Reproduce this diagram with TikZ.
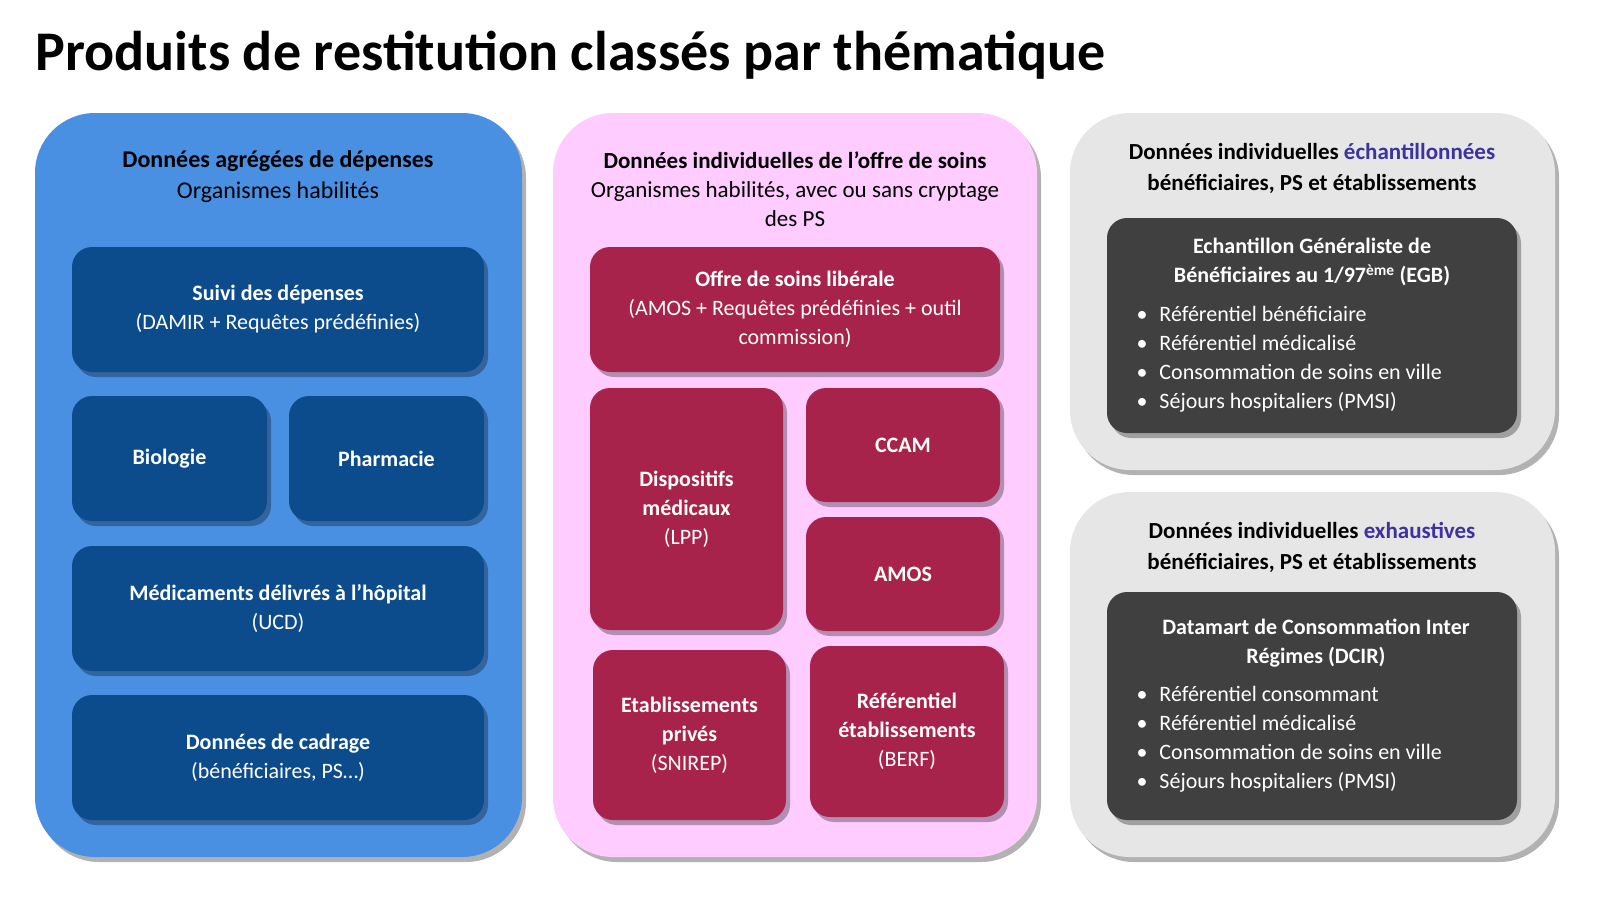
\documentclass[tikz,border=0pt]{standalone}
\usepackage{fontspec}
\setmainfont{Carlito}
\definecolor{pblue}{RGB}{74,144,226}
\definecolor{dblue}{RGB}{12,76,140}
\definecolor{ppink}{RGB}{255,204,255}
\definecolor{crim}{RGB}{168,35,75}
\definecolor{lgray}{RGB}{230,230,230}
\definecolor{dgray}{RGB}{64,64,64}
\definecolor{hl}{RGB}{60,50,160}
\tikzset{
 panel/.style={rounded corners=60pt},
 box/.style={rounded corners=20pt},
 shad/.style={fill=black,opacity=.3},
 btxt/.style={text=white, font=\fontsize{22}{29}\selectfont, align=center},
 htxt/.style={font=\fontsize{24}{31}\selectfont, align=center},
}
\newcommand{\pn}[5]{\fill[panel,shad] (#2+4,#3+5) rectangle (#4+4,#5+5); \fill[panel,#1] (#2,#3) rectangle (#4,#5);}
\newcommand{\bx}[6]{\fill[box,shad] (#2+4,#3+5) rectangle (#4+4,#5+5); \fill[box,#1] (#2,#3) rectangle (#4,#5); \node[btxt] (#6) at ({(#2+#4)/2},{(#3+#5)/2})}
\begin{document}
\begin{tikzpicture}[x=1pt,y=-1pt]
\useasboundingbox (0,0) rectangle (1624,898);
\fill[white] (0,0) rectangle (1624,898);
\node[anchor=base west,font=\fontsize{56}{60}\selectfont\bfseries] (title) at (32,70) {Produits de restitution classés par thématique};
% panels
\pn{pblue}{35}{113}{522}{857}
\pn{ppink}{553}{113}{1037}{857}
\pn{lgray}{1070}{113}{1555}{470}
\pn{lgray}{1070}{492}{1555}{857}
% blue
\node[htxt] (h1) at (278,177) {\textbf{Données agrégées de dépenses}\\Organismes habilités};
\bx{dblue}{72}{247}{484}{372}{suivi} {\textbf{Suivi des dépenses}\\(DAMIR + Requêtes prédéfinies)};
\bx{dblue}{72}{396}{267}{521}{bio} {\textbf{Biologie}};
\bx{dblue}{289}{396}{484}{521}{pharma} {\textbf{Pharmacie}};
\bx{dblue}{72}{546}{484}{671}{medic} {\textbf{Médicaments délivrés à l’hôpital}\\(UCD)};
\bx{dblue}{72}{695}{484}{820}{cadrage} {\textbf{Données de cadrage}\\(bénéficiaires, PS…)};
% pink
\node[font=\fontsize{23}{29}\selectfont, align=center] (h2) at (795,189) {\textbf{Données individuelles de l’offre de soins}\\Organismes habilités, avec ou sans cryptage\\des PS};
\bx{crim}{590}{247}{1000}{372}{offre} {\textbf{Offre de soins libérale}\\(AMOS + Requêtes prédéfinies + outil\\commission)};
\bx{crim}{590}{388}{783}{630}{dispo} {\textbf{Dispositifs}\\\textbf{médicaux}\\(LPP)};
\bx{crim}{806}{388}{1000}{502}{ccam} {\textbf{CCAM}};
\bx{crim}{806}{517}{1000}{631}{amos} {\textbf{AMOS}};
\bx{crim}{593}{650}{786}{820}{etab} {\textbf{Etablissements}\\\textbf{privés}\\(SNIREP)};
\bx{crim}{810}{646}{1004}{817}{refe} {\textbf{Référentiel}\\\textbf{établissements}\\(BERF)};
% gray
\node[htxt,font=\fontsize{23}{31}\selectfont\bfseries] (h3) at (1312,168) {Données individuelles \textcolor{hl}{échantillonnées}\\bénéficiaires, PS et établissements};
\node[htxt,font=\fontsize{23}{31}\selectfont\bfseries] (h4) at (1312,547) {Données individuelles \textcolor{hl}{exhaustives}\\bénéficiaires, PS et établissements};
\fill[box,shad] (1111,223) rectangle (1521,438);
\fill[box,dgray] (1107,218) rectangle (1517,433);
\fill[box,shad] (1111,597) rectangle (1521,825);
\fill[box,dgray] (1107,592) rectangle (1517,820);
\node[btxt] (egb) at (1312,262) {\textbf{Echantillon Généraliste de}\\\textbf{Bénéficiaires au 1/97\textsuperscript{ème} (EGB)}};
\node[btxt,align=left,anchor=north west,font=\fontsize{22}{29}\selectfont] (egbl) at (1133,303) {•\hspace{12pt}Référentiel bénéficiaire\\•\hspace{12pt}Référentiel médicalisé\\•\hspace{12pt}Consommation de soins en ville\\•\hspace{12pt}Séjours hospitaliers (PMSI)};
\node[btxt] (dcir) at (1316,643) {\textbf{Datamart de Consommation Inter}\\\textbf{Régimes (DCIR)}};
\node[btxt,align=left,anchor=north west,font=\fontsize{22}{29}\selectfont] (dcirl) at (1133,683) {•\hspace{12pt}Référentiel consommant\\•\hspace{12pt}Référentiel médicalisé\\•\hspace{12pt}Consommation de soins en ville\\•\hspace{12pt}Séjours hospitaliers (PMSI)};
\end{tikzpicture}
\end{document}
